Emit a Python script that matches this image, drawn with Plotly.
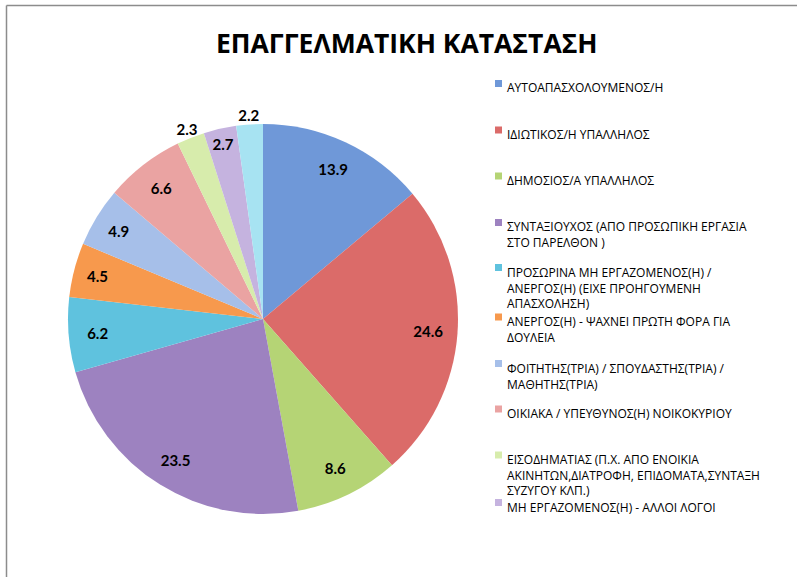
import plotly.graph_objects as go

W, H = 798, 577

categories = [
    "ΑΥΤΟΑΠΑΣΧΟΛΟΥΜΕΝΟΣ/Η",
    "ΙΔΙΩΤΙΚΟΣ/Η ΥΠΑΛΛΗΛΟΣ",
    "ΔΗΜΟΣΙΟΣ/Α ΥΠΑΛΛΗΛΟΣ",
    "ΣΥΝΤΑΞΙΟΥΧΟΣ (ΑΠΟ ΠΡΟΣΩΠΙΚΗ ΕΡΓΑΣΙΑ<br>ΣΤΟ ΠΑΡΕΛΘΟΝ )",
    "ΠΡΟΣΩΡΙΝΑ ΜΗ ΕΡΓΑΖΟΜΕΝΟΣ(Η) /<br>ΑΝΕΡΓΟΣ(Η) (ΕΙΧΕ ΠΡΟΗΓΟΥΜΕΝΗ<br>ΑΠΑΣΧΟΛΗΣΗ)",
    "ΑΝΕΡΓΟΣ(Η) - ΨΑΧΝΕΙ ΠΡΩΤΗ ΦΟΡΑ ΓΙΑ<br>ΔΟΥΛΕΙΑ",
    "ΦΟΙΤΗΤΗΣ(ΤΡΙΑ) / ΣΠΟΥΔΑΣΤΗΣ(ΤΡΙΑ) /<br>ΜΑΘΗΤΗΣ(ΤΡΙΑ)",
    "ΟΙΚΙΑΚΑ / ΥΠΕΥΘΥΝΟΣ(Η) ΝΟΙΚΟΚΥΡΙΟΥ",
    "ΕΙΣΟΔΗΜΑΤΙΑΣ (Π.Χ. ΑΠΟ ΕΝΟΙΚΙΑ<br>ΑΚΙΝΗΤΩΝ,ΔΙΑΤΡΟΦΗ, ΕΠΙΔΟΜΑΤΑ,ΣΥΝΤΑΞΗ<br>ΣΥΖΥΓΟΥ ΚΛΠ.)",
    "ΜΗ ΕΡΓΑΖΟΜΕΝΟΣ(Η) - ΑΛΛΟΙ ΛΟΓΟΙ",
    "ΑΛΛΟ",
]
values = [13.9, 24.6, 8.6, 23.5, 6.2, 4.5, 4.9, 6.6, 2.3, 2.7, 2.2]
legend_shown = 10  # the last legend entry is cut off in the original
outside_labels = [8, 10]  # slices whose value label sits just outside the pie

colors = [
    "#6f98d8", "#db6b69", "#b5d475", "#9d82c0", "#5fc2de", "#f7994d",
    "#a6bfe9", "#eaa3a2", "#d7ecac", "#c5b3df", "#a7e3f2",
]

# pie geometry (pixels)
CX, CY, R = 263, 319, 195
R_OUT = 1.1 * R

def dom(rad):
    return dict(x=[(CX - rad) / W, (CX + rad) / W],
                y=[(H - CY - rad) / H, (H - CY + rad) / H])

inner_text = ["" if i in outside_labels else f"{v}" for i, v in enumerate(values)]
outer_text = [f"{v}" if i in outside_labels else "" for i, v in enumerate(values)]
label_font = dict(family="Lato", size=15, color="#000000", weight="bold")
clear = ["rgba(0,0,0,0)"] * len(values)

fig = go.Figure()
# solid pie
fig.add_trace(go.Pie(
    labels=categories, values=values, sort=False, direction="clockwise",
    rotation=0, marker=dict(colors=colors, line=dict(width=0)),
    textinfo="none", domain=dom(R), showlegend=False,
    hovertemplate="%{label}: %{value}<extra></extra>",
))
# transparent ring carrying the inside value labels (placed near the rim)
fig.add_trace(go.Pie(
    labels=categories, values=values, sort=False, direction="clockwise",
    rotation=0, hole=0.7, marker=dict(colors=clear, line=dict(width=0)),
    text=inner_text, textinfo="text", textposition="inside",
    insidetextorientation="horizontal", textfont=label_font,
    domain=dom(R), showlegend=False, hoverinfo="skip",
))
# transparent outer ring carrying the labels just outside the pie
fig.add_trace(go.Pie(
    labels=categories, values=values, sort=False, direction="clockwise",
    rotation=0, hole=R / R_OUT, marker=dict(colors=clear, line=dict(width=0)),
    text=outer_text, textinfo="text", textposition="inside",
    insidetextorientation="horizontal", textfont=label_font,
    domain=dom(R_OUT), showlegend=False, hoverinfo="skip",
))

annotations = [dict(
    text="<b>ΕΠΑΓΓΕΛΜΑΤΙΚΗ ΚΑΤΑΣΤΑΣΗ</b>",
    x=407 / W, y=1 - 43 / H, xref="paper", yref="paper",
    xanchor="center", yanchor="middle", showarrow=False,
    font=dict(family="Open Sans", size=26.5, color="#000000"),
)]
shapes = [
    dict(type="line", xref="paper", yref="paper",
         x0=6.5 / W, x1=797 / W, y0=1 - 5.5 / H, y1=1 - 5.5 / H,
         line=dict(color="#8c8c8c", width=1.5)),
    dict(type="line", xref="paper", yref="paper",
         x0=6.5 / W, x1=6.5 / W, y0=0, y1=1 - 5.5 / H,
         line=dict(color="#8c8c8c", width=1.5)),
]

# legend row positions (pixel y of each entry's first line)
legend_rows_px = [86, 132.5, 178.5, 225, 270, 319.5, 366, 411.5, 457.5, 505]
for i in range(legend_shown):
    yc = legend_rows_px[i]
    annotations.append(dict(
        text=categories[i], x=505 / W, y=1 - (yc - 8.5) / H,
        xref="paper", yref="paper", xanchor="left", yanchor="top",
        align="left", showarrow=False,
        font=dict(family="Open Sans", size=12, color="#000000"),
    ))
    shapes.append(dict(
        type="rect", xref="paper", yref="paper",
        x0=495 / W, x1=502 / W, y0=1 - (yc + 1) / H, y1=1 - (yc - 6) / H,
        fillcolor=colors[i], line=dict(width=0),
    ))

fig.update_layout(
    width=W, height=H,
    margin=dict(l=0, r=0, t=0, b=0),
    paper_bgcolor="#ffffff",
    plot_bgcolor="#ffffff",
    annotations=annotations,
    shapes=shapes,
    uniformtext=dict(minsize=15, mode="show"),
)

fig.write_html("out.html", config={"displayModeBar": False},
               post_script="document.body.style.margin='0';")
